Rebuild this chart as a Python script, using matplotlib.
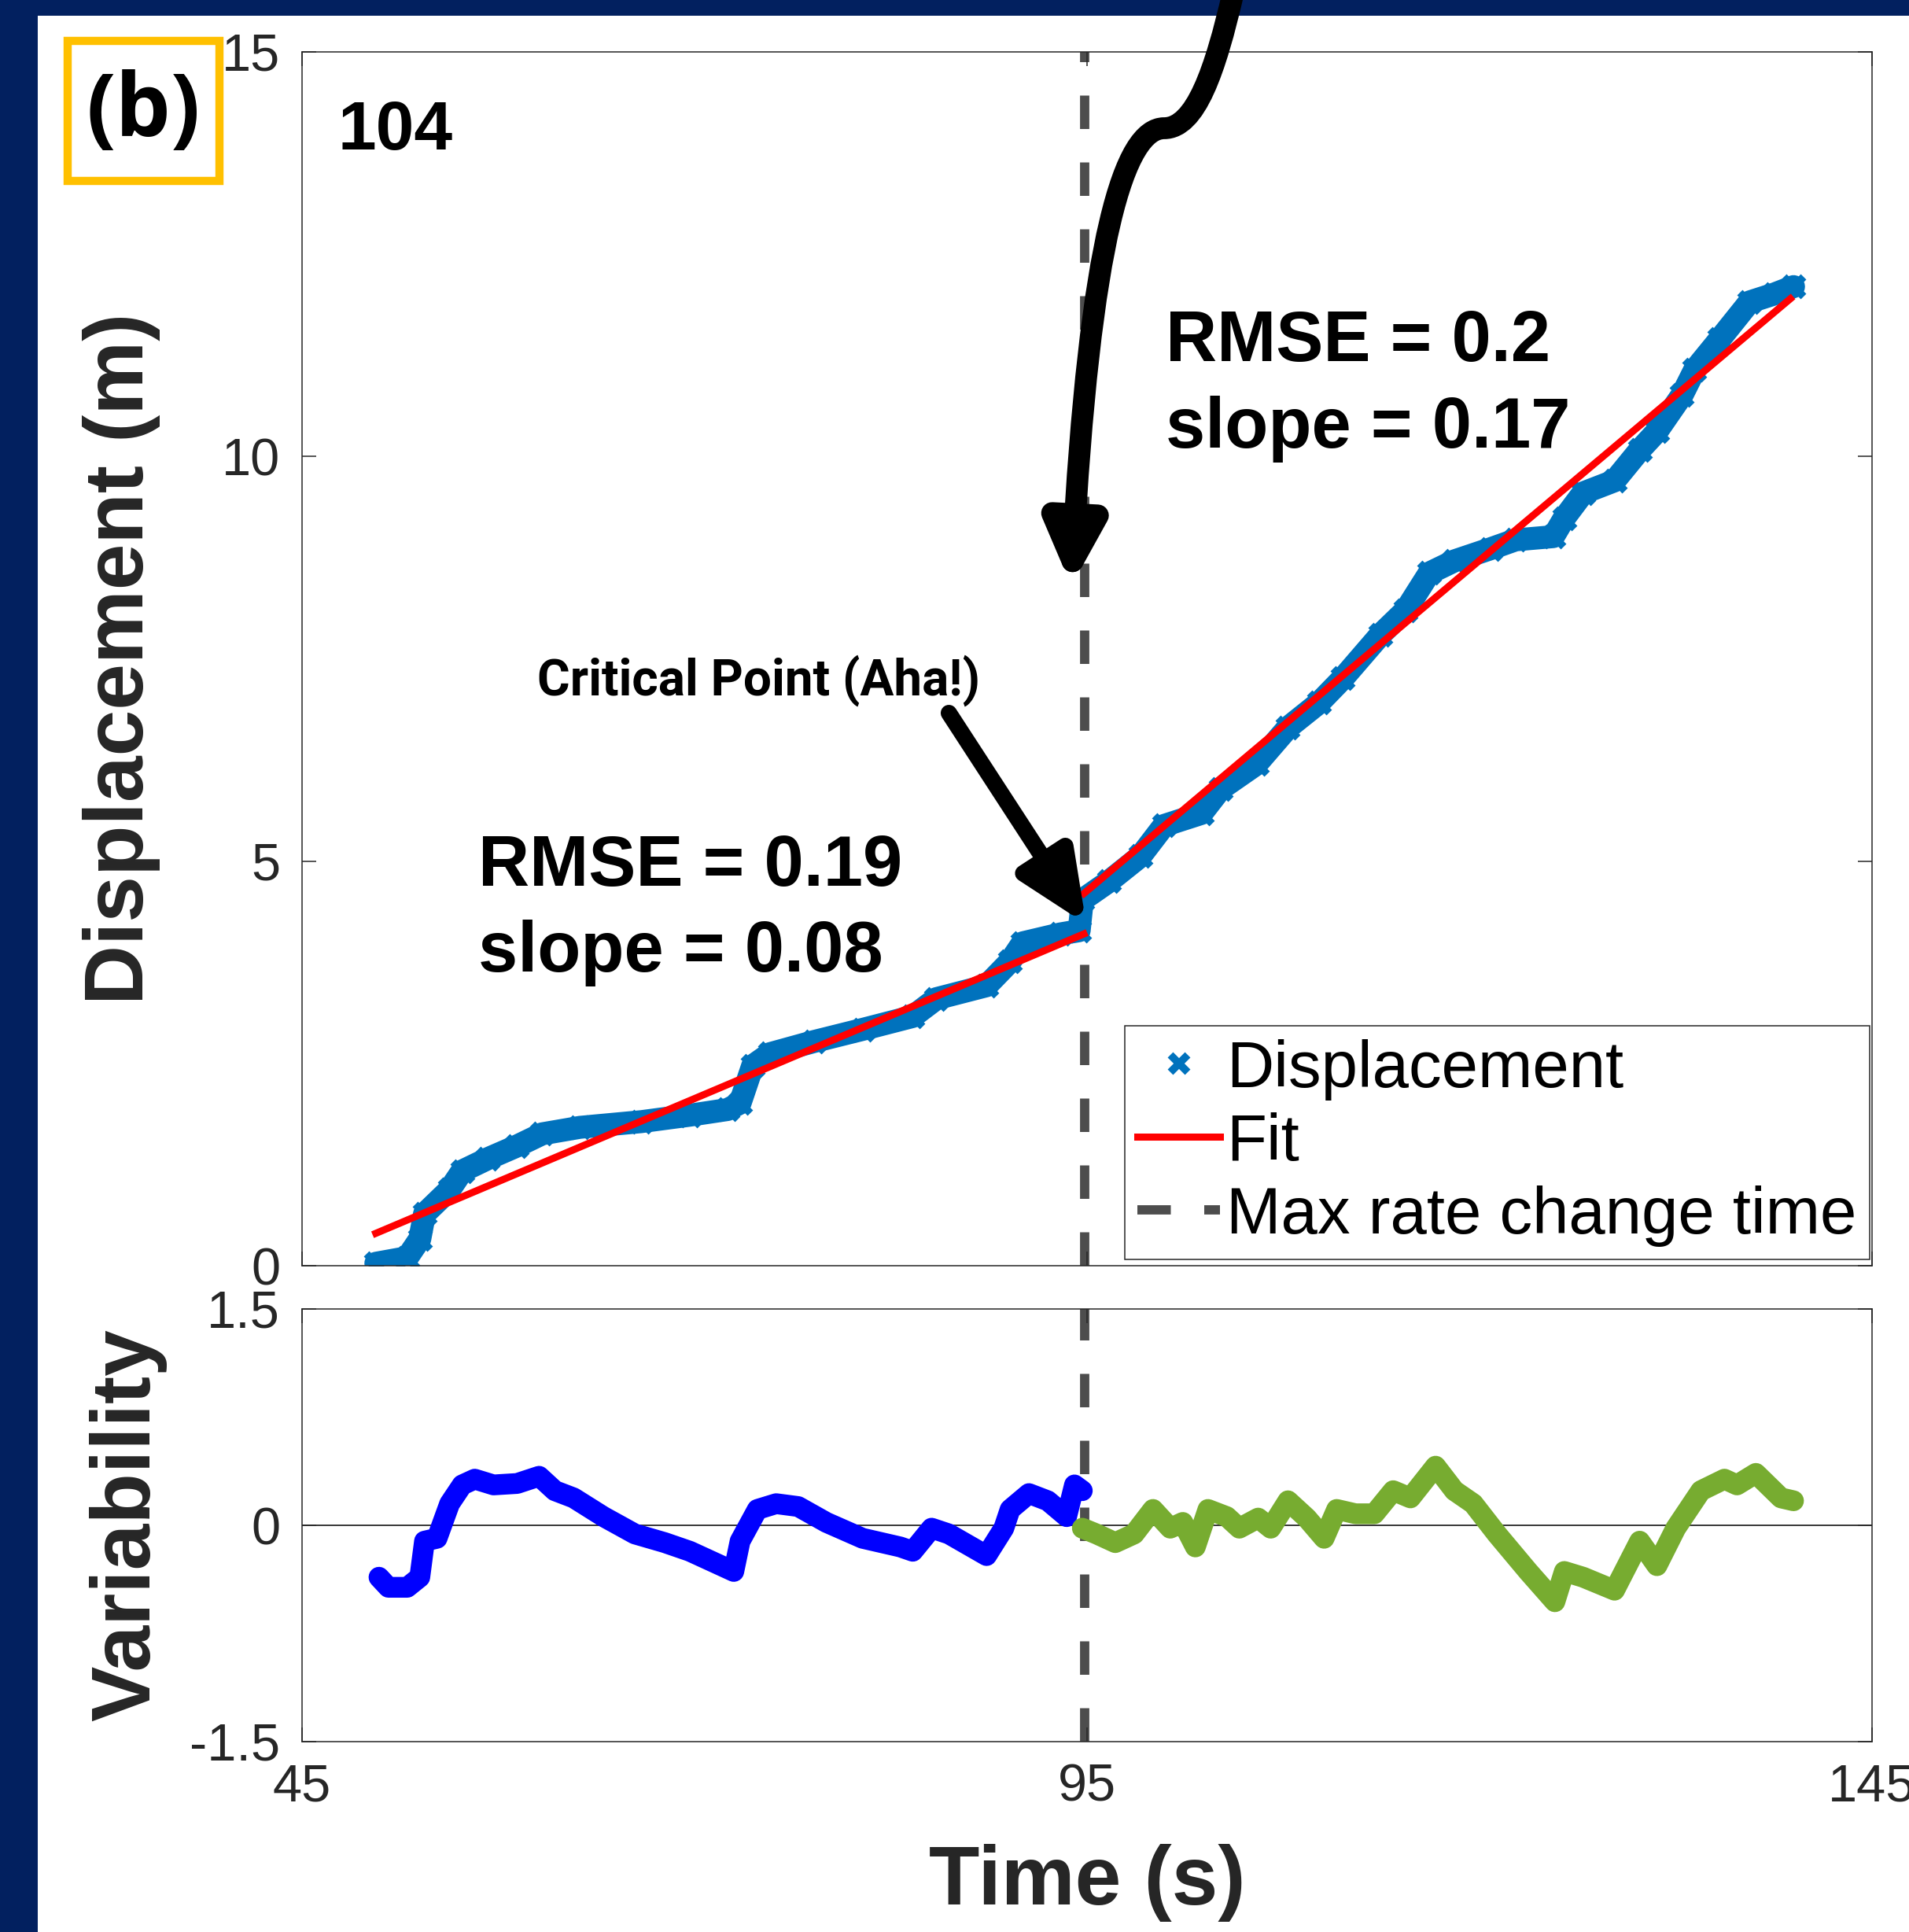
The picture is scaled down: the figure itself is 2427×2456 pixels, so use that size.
import matplotlib
matplotlib.use("Agg")
import matplotlib.pyplot as plt
from matplotlib.patches import Rectangle, FancyArrowPatch
from matplotlib.path import Path
from matplotlib.lines import Line2D

# displacement (m)
disp_t = [49.7, 51.7, 52.5, 52.8, 54.4, 55.2, 56.8, 58.7, 60.3, 62.7, 66.6, 69.7,
          72.1, 72.9, 73.7, 74.8, 77.6, 80.7, 83.9, 85.4, 88.6, 90.1, 90.9, 93.3,
          94.5, 94.7, 96.4, 98.4, 99.9, 102.3, 103.5, 105.8, 107.8, 109.8, 111.3,
          113.7, 115.3, 116.8, 118.4, 120.7, 122.3, 124.7, 125.4, 126.6, 128.6,
          130.2, 131.3, 132.9, 133.7, 135.3, 137.2, 138.8, 140.0]
disp_y = [0.03, 0.10, 0.33, 0.64, 0.94, 1.17, 1.32, 1.48, 1.63, 1.71, 1.78, 1.86,
          1.93, 2.01, 2.47, 2.62, 2.77, 2.92, 3.08, 3.30, 3.46, 3.76, 3.99, 4.10,
          4.14, 4.52, 4.75, 5.06, 5.44, 5.59, 5.89, 6.20, 6.65, 6.96, 7.26,
          7.80, 8.10, 8.56, 8.71, 8.86, 8.97, 9.01, 9.24, 9.55, 9.70,
          10.08, 10.31, 10.76, 11.07, 11.45, 11.91, 12.01, 12.10]

fit1_t = [49.7, 94.8]
fit1_y = [0.40, 4.10]
fit2_t = [94.8, 139.8]
fit2_y = [4.60, 11.95]

change_time = 94.85

# variability before / after the change time
var1_t = [49.9, 50.5, 51.7, 52.5, 52.8, 53.6, 54.4, 55.2, 56.0, 57.2, 58.7, 60.1,
          61.1, 62.3, 64.2, 66.2, 68.1, 69.7, 71.3, 72.5, 72.9, 74.0, 75.2, 76.6,
          78.4, 80.7, 83.1, 83.9, 85.1, 86.2, 88.6, 89.7, 90.1, 91.3, 92.5, 93.7,
          94.2, 94.7]
var1_y = [-0.36, -0.43, -0.43, -0.36, -0.11, -0.09, 0.15, 0.28, 0.32, 0.28, 0.29, 0.34,
          0.24, 0.19, 0.06, -0.06, -0.12, -0.18, -0.26, -0.32, -0.11, 0.11, 0.15, 0.13,
          0.02, -0.09, -0.15, -0.18, -0.02, -0.06, -0.21, -0.02, 0.11, 0.22, 0.17, 0.06,
          0.28, 0.24]
var2_t = [94.7, 95.6, 96.8, 98.0, 99.2, 100.3, 101.1, 101.9, 102.7, 103.9, 104.7,
          105.9, 106.7, 107.8, 109.0, 110.1, 110.9, 112.1, 113.3, 114.5, 115.6, 117.2,
          118.4, 119.6, 121.1, 123.1, 124.8, 125.4, 126.6, 128.6, 130.2, 131.3, 132.5,
          134.1, 135.6, 136.4, 137.6, 139.2, 140.0]
var2_y = [-0.02, -0.06, -0.12, -0.06, 0.11, -0.02, 0.02, -0.15, 0.11, 0.06, -0.02,
          0.05, -0.02, 0.17, 0.05, -0.09, 0.11, 0.08, 0.08, 0.24, 0.19, 0.41,
          0.24, 0.15, -0.06, -0.32, -0.53, -0.32, -0.36, -0.45, -0.11, -0.28, -0.02,
          0.24, 0.32, 0.28, 0.36, 0.19, 0.17]

W, H = 2427, 2456
navy = "#02205f"
gray = "#262626"
tick_font = "Liberation Sans"

fig = plt.figure(figsize=(W / 100, H / 100), dpi=100, facecolor=navy)
fig.add_artist(Rectangle((48 / W, 0), 1 - 48 / W, 1 - 20 / H, transform=fig.transFigure,
                         facecolor="white", edgecolor="none", zorder=-5))

ax1 = fig.add_axes([384 / W, 1 - 1609 / H, 1996 / W, 1543 / H])
ax2 = fig.add_axes([384 / W, 1 - 2214 / H, 1996 / W, 550 / H])

for ax in (ax1, ax2):
    ax.set_xlim(45, 145)
    ax.tick_params(direction="in", length=13, width=1.1, colors=gray, labelsize=48,
                   top=True, right=True, pad=20)
    for sp in ax.spines.values():
        sp.set_color(gray)
        sp.set_linewidth(1.1)
    ax.axvline(change_time, color="#4d4d4d", lw=8.5, dashes=(3.6, 3.6), zorder=1)

# top panel
ax1.set_ylim(0, 15)
ax1.set_xticks([45, 95, 145])
ax1.set_xticklabels([])
ax1.set_yticks([0, 5, 10, 15])
ax1.set_yticklabels(["0", "5", "10", "15"], family=tick_font)
ax1.plot(disp_t, disp_y, color="#0072BD", lw=21, solid_joinstyle="round",
         solid_capstyle="round", zorder=2)
ax1.plot(disp_t, disp_y, ls="none", marker="x", ms=18, mew=7, color="#0072BD",
         label="Displacement", zorder=2)
ax1.plot(fit1_t, fit1_y, color="#ff0000", lw=6.5, label="Fit", zorder=3)
ax1.plot(fit2_t, fit2_y, color="#ff0000", lw=6.5, zorder=3)
ax1.set_ylabel("Displacement (m)", fontsize=76, fontweight="bold", color=gray,
               family=tick_font)
ax1.yaxis.set_label_coords(-0.090, 0.5)

handles = [Line2D([], [], ls="none", marker="x", ms=16, mew=7, color="#0072BD"),
           Line2D([], [], color="#ff0000", lw=6.5),
           Line2D([], [], color="#4d4d4d", lw=8.5, dashes=(3.6, 3.6))]
leg = ax1.legend(handles, ["Displacement", "Fit", "Max rate change time"],
                 loc="lower right", bbox_to_anchor=(0.9985, 0.005), borderaxespad=0,
                 fancybox=False, framealpha=1, edgecolor=gray, handlelength=1.25,
                 handletextpad=0.1, labelspacing=0.18, borderpad=0.2,
                 prop={"family": tick_font, "size": 60})
leg.get_frame().set_linewidth(1.1)

bold = dict(fontsize=65, fontweight="bold", family=tick_font, color="black")
ax1.text(47.3, 13.79, "104", fontsize=63, fontweight="bold", family=tick_font)
ax1.text(56.2, 4.70, "RMSE = 0.19", **bold)
ax1.text(56.2, 3.64, "slope = 0.08", **bold)
ax1.text(100.0, 11.18, "RMSE = 0.2", **bold)
ax1.text(100.0, 10.11, "slope = 0.17", **bold)

ax1.text(60.0, 7.05, "Critical Point (Aha!)", fontsize=46, fontweight="bold",
         family="Roboto", color="black")
ax1.annotate("", xy=(94.95, 4.22), xytext=(86.2, 6.83),
             arrowprops=dict(arrowstyle="-|>,head_length=52,head_width=23",
                             mutation_scale=1, lw=15, color="black",
                             shrinkA=0, shrinkB=0))

# bottom panel
ax2.set_ylim(-1.5, 1.5)
ax2.set_xticks([45, 95, 145])
ax2.set_xticklabels(["45", "95", "145"], family=tick_font)
ax2.set_yticks([-1.5, 0, 1.5])
ax2.set_yticklabels(["-1.5", "0", "1.5"], family=tick_font)
ax2.axhline(0, color=gray, lw=1.3, zorder=1)
ax2.plot(var1_t, var1_y, color="#0000ff", lw=19, solid_joinstyle="round",
         solid_capstyle="round", zorder=2)
ax2.plot(var2_t, var2_y, color="#77ac30", lw=19, solid_joinstyle="round",
         solid_capstyle="round", zorder=2)
ax2.set_ylabel("Variability", fontsize=76, fontweight="bold", color=gray,
               family=tick_font)
ax2.yaxis.set_label_coords(-0.086, 0.5)
ax2.set_xlabel("Time (s)", fontsize=76, fontweight="bold", color=gray,
               family=tick_font)
ax2.xaxis.set_label_coords(0.5, -0.237)

# panel tag
fig.add_artist(Rectangle((86 / W, 1 - 230 / H), 193 / W, 178 / H, transform=fig.transFigure,
                         facecolor="white", edgecolor="#ffc000", lw=7.5, zorder=5))
fig.text(182 / W, 1 - 144 / H, "(b)", fontsize=80, fontweight="bold", family="Open Sans",
         ha="center", va="center", zorder=6)

# curved arrow coming from above
pts = [(1568, -10), (1545, 90), (1520, 163), (1480, 163),
       (1430, 163), (1385, 300), (1362, 745)]
pts = [(x / W, 1 - y / H) for x, y in pts]
codes = [Path.MOVETO, Path.CURVE4, Path.CURVE4, Path.CURVE4,
         Path.CURVE4, Path.CURVE4, Path.CURVE4]
arrow = FancyArrowPatch(path=Path(pts, codes), transform=fig.transFigure,
                        arrowstyle="-|>,head_length=43,head_width=21", mutation_scale=1,
                        shrinkA=0, shrinkB=0, lw=20, color="black", zorder=10,
                        clip_on=False)
fig.add_artist(arrow)

fig.savefig("out.png", dpi=100, facecolor=navy)
